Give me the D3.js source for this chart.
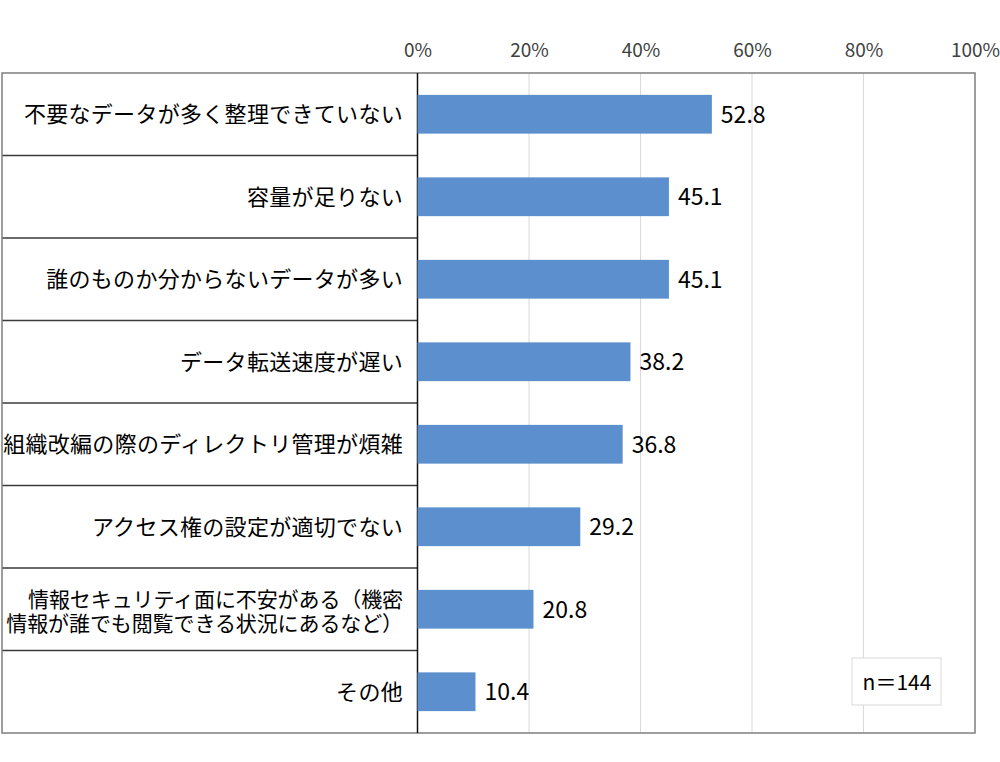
<!DOCTYPE html>
<html><head><meta charset="utf-8">
<script src="https://cdn.jsdelivr.net/npm/d3@7"></script>
<style>body{margin:0;background:#fff}svg{display:block}</style>
</head><body>
<script>
const categories = [
  ["不要なデータが多く整理できていない"],
  ["容量が足りない"],
  ["誰のものか分からないデータが多い"],
  ["データ転送速度が遅い"],
  ["組織改編の際のディレクトリ管理が煩雑"],
  ["アクセス権の設定が適切でない"],
  ["情報セキュリティ面に不安がある（機密","情報が誰でも閲覧できる状況にあるなど）"],
  ["その他"]
];
const values = [52.8, 45.1, 45.1, 38.2, 36.8, 29.2, 20.8, 10.4];
const ticks = [0, 20, 40, 60, 80, 100];
const note = "n＝144";

const W = 1000, H = 762;
const frameL = 2, plotL = 417.5, plotR = 975, plotTop = 73, plotBottom = 733;
const font = "'Noto Sans CJK JP','Noto Sans',sans-serif";

const svg = d3.select("body").append("svg").attr("width", W).attr("height", H);

const x = d3.scaleLinear().domain([0, 100]).range([plotL, plotR]);
const y = d3.scaleBand().domain(d3.range(categories.length)).range([plotTop, plotBottom]);
const yb = d3.scaleBand().domain(d3.range(categories.length)).range([plotTop, plotBottom]).paddingInner(0.53).paddingOuter(0.265);

// gridlines
svg.append("g").selectAll("line").data(ticks.slice(1, -1)).join("line")
  .attr("x1", d => x(d)).attr("x2", d => x(d)).attr("y1", plotTop).attr("y2", plotBottom)
  .attr("stroke", "#d9d9d9").attr("stroke-width", 1);

// row separators in label area
svg.append("g").selectAll("line").data(d3.range(1, categories.length)).join("line")
  .attr("x1", frameL).attr("x2", plotL).attr("y1", d => y(d)).attr("y2", d => y(d))
  .attr("stroke", "#3a3a3a").attr("stroke-width", 1.4);

// outer frame
svg.append("rect").attr("x", frameL).attr("y", plotTop).attr("width", plotR - frameL).attr("height", plotBottom - plotTop)
  .attr("fill", "none").attr("stroke", "#7f7f7f").attr("stroke-width", 1.5);

// axis line at 0
svg.append("line").attr("x1", x(0)).attr("x2", x(0)).attr("y1", plotTop).attr("y2", plotBottom)
  .attr("stroke", "#111").attr("stroke-width", 1.5);

// top tick labels
const axis = d3.axisTop(x).tickValues(ticks).tickFormat(d => d + "%").tickSize(0).tickPadding(0);
const ag = svg.append("g").attr("transform", `translate(0,57)`).call(axis);
ag.select(".domain").remove();
ag.selectAll("text").attr("font-family", font).attr("font-size", 19).attr("fill", "#404040");

// bars
svg.append("g").selectAll("rect").data(values).join("rect")
  .attr("x", x(0)).attr("y", (d, i) => yb(i)).attr("width", d => x(d) - x(0)).attr("height", yb.bandwidth())
  .attr("fill", "#5b8fcd");

// value labels
svg.append("g").selectAll("text").data(values).join("text")
  .attr("x", d => x(d) + 9).attr("y", (d, i) => yb(i) + yb.bandwidth() / 2)
  .attr("dy", "0.36em").attr("font-family", font).attr("font-size", 23).attr("fill", "#000")
  .text(d => d.toFixed(1));

// category labels
const lg = svg.append("g").selectAll("text").data(categories).join("text")
  .attr("x", 403).attr("y", (d, i) => y(i) + y.bandwidth() / 2 + (d.length > 1 ? 2 : 0))
  .attr("text-anchor", "end").attr("font-family", font)
  .attr("font-size", d => d.length > 1 ? 21 : 22)
  .attr("letter-spacing", d => d.length > 1 ? -0.1 : 0.3)
  .attr("fill", "#000");
lg.each(function(lines) {
  const t = d3.select(this);
  const n = lines.length, lh = 1.16;
  lines.forEach((s, k) => {
    t.append("tspan").attr("x", 403).attr("dy", k === 0 ? ((-(n - 1) / 2) * lh + 0.36) + "em" : lh + "em").text(s);
  });
});

// note box
svg.append("rect").attr("x", 852).attr("y", 658).attr("width", 89).attr("height", 47)
  .attr("fill", "#fff").attr("stroke", "#d9d9d9").attr("stroke-width", 1);
svg.append("text").attr("x", 897).attr("y", 682).attr("dy", "0.36em").attr("text-anchor", "middle")
  .attr("font-family", font).attr("font-size", 21).attr("fill", "#000").text(note);
</script>
</body></html>
